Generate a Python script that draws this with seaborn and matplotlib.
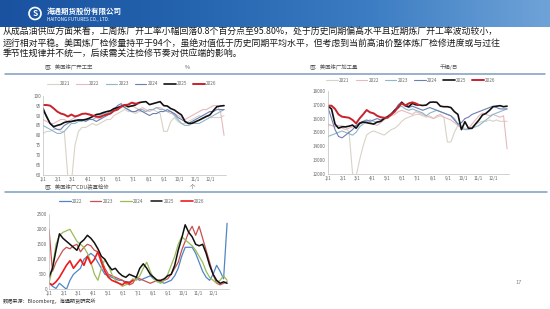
import numpy as np
import pandas as pd
import matplotlib
matplotlib.use('Agg')
import matplotlib.pyplot as plt
import seaborn as sns
from matplotlib.patches import Circle
from matplotlib.colors import LinearSegmentedColormap

sns.set_theme(style='white')
plt.rcParams['font.family'] = ['Noto Sans CJK SC', 'DejaVu Sans']

# ---------------- data ----------------
month_labels = ['1/1', '2/1', '3/1', '4/1', '5/1', '6/1', '7/1', '8/1', '9/1', '10/1', '11/1', '12/1']
month_start_days = [0, 31, 59, 90, 120, 151, 181, 212, 243, 273, 304, 334]

# US refinery utilization, %
util_2021 = [81, 82, 82, 83, 83, 82, 82, 59, 56, 75, 82, 84, 84, 85, 86, 85, 86, 87, 88, 88, 90, 91, 92, 93, 92, 92,
             91, 92, 92, 92, 93, 93, 92, 91, 82, 82, 87, 89, 87, 86, 86, 87, 88, 89, 90, 89, 90, 89, 89, 89, 89, 90]
util_2022 = [88, 87, 86, 86, 87, 88, 88, 87, 88, 89, 90, 91, 91, 91, 90, 89, 88, 90, 91, 92, 93, 93, 94, 95, 94, 95,
             94, 93, 94, 93, 92, 93, 94, 94, 93, 92, 91, 91, 90, 89, 88, 89, 90, 91, 92, 93, 93, 94, 95, 95, 92, 80]
util_2023 = [85, 84, 83, 82, 81, 81, 82, 84, 86, 86, 87, 87, 88, 88, 88, 89, 90, 91, 91, 92, 93, 94, 95, 94, 93, 92,
             92, 93, 93, 92, 93, 93, 94, 93, 93, 92, 92, 90, 88, 86, 85, 85, 86, 86, 86, 87, 88, 89, 90, 91, 92, 93]
util_2024 = [92, 90, 86, 84, 83, 83, 85, 86, 87, 87, 88, 88, 87, 88, 88, 87, 88, 89, 90, 91, 93, 95, 96, 94, 93, 92,
             92, 93, 92, 91, 90, 91, 91, 92, 92, 93, 92, 91, 89, 88, 87, 86, 87, 88, 89, 90, 91, 92, 92, 93, 93, 93]
util_2025 = [93.6, 89.4, 86.0, 84.4, 85.0, 85.5, 86.5, 86.9, 87.0, 87.5, 87.7, 87.7, 88.0, 88.6, 89.5, 90.5, 90.8,
             91.5, 92.0, 92.4, 93.5, 94.0, 94.5, 95.3, 94.5, 94.8, 95.3, 96.5, 96.8, 97.0, 95.5, 96.0, 96.5, 97.0,
             95.0, 94.8, 93.5, 92.8, 91.5, 90.3, 87.0, 86.0, 86.1, 86.9, 87.7, 88.6, 89.5, 90.3, 92.5, 94.5, 94.8, 95.0]
util_2026 = [95.3, 95.3, 95.0, 93.6, 92.0, 91.0, 90.5, 89.5, 90.5, 89.5, 90.0, 90.8, 91.0, 90.5, 90.0, 89.5, 89.2,
             90.0, 90.5, 91.0, 92.4, 93.0, 94.5, 95.3, 95.5, 96.5, 96.0, 96.2]

# US refinery crude runs, kb/d
runs_2021 = [15500, 15500, 15400, 15500, 15500, 15400, 15000, 12000, 11800, 13000, 14000, 14800, 15000, 15100, 15000,
             14900, 14800, 15000, 15200, 15300, 15500, 15800, 16000, 16100, 16200, 16300, 16300, 16200, 16100, 16200,
             16000, 16100, 16200, 16100, 14300, 14300, 15000, 15500, 15400, 15300, 15200, 15400, 15600, 15700, 15800,
             15800, 15900, 15800, 15900, 15800, 15800, 15800]
runs_2022 = [15600, 15500, 15400, 15500, 15300, 15200, 15300, 15400, 15500, 15600, 15700, 15800, 15700, 15600, 15500,
             15700, 15900, 16100, 16200, 16300, 16500, 16600, 16500, 16400, 16300, 16500, 16400, 16300, 16200, 16100,
             16000, 16200, 16300, 16100, 16000, 15900, 15700, 15500, 15300, 15200, 15300, 15600, 15900, 16200, 16400,
             16300, 16200, 16300, 16200, 16100, 16200, 13800]
runs_2023 = [14700, 14800, 14900, 15000, 15100, 15000, 14900, 14800, 15000, 15400, 15600, 15800, 15900, 15800, 15700,
             15800, 16000, 16200, 16400, 16600, 16800, 16900, 16700, 16600, 16700, 16600, 16500, 16400, 16200, 16400,
             16500, 16600, 16500, 16400, 16300, 16200, 16000, 15600, 15300, 15200, 15200, 15300, 15400, 15500, 15700,
             15900, 16100, 16300, 16400, 16500, 16600, 16700]
runs_2024 = [16800, 16000, 15200, 14700, 14600, 14800, 15000, 15200, 15500, 15700, 15800, 15900, 15800, 15900, 16000,
             15900, 16000, 16100, 16300, 16600, 17000, 17200, 16900, 16800, 16900, 16800, 16700, 16600, 16700, 16800,
             16700, 16600, 16500, 16400, 16300, 16200, 15900, 15600, 15700, 16000, 16100, 16300, 16400, 16500, 16600,
             16700, 16800, 16900, 16800, 16700, 16700, 16700]
runs_2025 = [16900, 16700, 15600, 15300, 15400, 15400, 15450, 15530, 15300, 15650, 15750, 15700, 15650, 15600, 15750,
             15800, 16000, 16130, 16300, 16600, 16800, 17180, 16950, 16860, 17100, 17000, 16980, 16950, 16980, 17180,
             17200, 17180, 16900, 16860, 16860, 16800, 16500, 16300, 15200, 15770, 15300, 15290, 15600, 15900, 16260,
             16380, 16600, 16860, 16900, 16935, 16860, 16900]
runs_2026 = [16935, 16935, 16700, 16300, 16135, 16100, 16060, 15900, 15650, 16015, 16300, 16620, 16450, 16380, 16200,
             16100, 16060, 16060, 16300, 16500, 16860, 17100, 16950, 17100, 17180, 17100, 16980]

# US refinery CDU outages
cdu_2022 = [200, 100, 30, 200, 100, 0, 300, 500, 600, 700, 1000, 1100, 1200, 1100, 900, 700, 500, 450, 400, 350, 300,
            300, 250, 250, 300, 350, 300, 350, 400, 450, 350, 300, 250, 200, 250, 300, 450, 700, 1100, 1400, 1400,
            1400, 1200, 900, 600, 400, 300, 500, 800, 600, 350, 2200]
cdu_2023 = [2000, 600, 900, 1100, 1300, 1400, 1350, 1450, 1500, 1250, 1400, 1500, 1450, 1300, 1250, 1000, 700, 500,
            450, 400, 350, 300, 200, 150, 200, 400, 350, 300, 250, 200, 250, 300, 250, 300, 350, 500, 700, 900, 1300,
            1600, 1900, 2100, 1800, 2100, 1700, 1300, 900, 500, 200, 150, 200, 250]
cdu_2024 = [200, 700, 1500, 1800, 1900, 1950, 2000, 1800, 1600, 1500, 1400, 1200, 900, 500, 300, 700, 1000, 800, 500,
            300, 200, 100, 150, 200, 350, 300, 450, 700, 900, 600, 350, 250, 200, 300, 500, 800, 1100, 1500, 1750,
            1650, 1550, 1450, 1300, 1100, 900, 600, 400, 300, 200, 300, 450, 300]
cdu_2025 = [400, 700, 1300, 1850, 1700, 1600, 1500, 1400, 1300, 1550, 1650, 1800, 1700, 1550, 1350, 1100, 1000, 800,
            650, 700, 550, 450, 400, 500, 450, 400, 700, 850, 700, 500, 400, 300, 300, 350, 450, 500, 800, 1300, 1700,
            2150, 1900, 1750, 1500, 1450, 1500, 1200, 800, 500, 300, 200, 250, 200]
cdu_2026 = [200, 150, 250, 400, 600, 800, 950, 700, 850, 1000, 800, 1100, 850, 1000, 1250, 900, 600, 400, 300, 250,
            200, 150, 250, 200, 300]

body_lines = [
    "从成品油供应方面来看，上周炼厂开工率小幅回落0.8个百分点至95.80%，处于历史同期偏高水平且近期炼厂开工率波动较小，",
    "运行相对平稳。美国炼厂检修量持平于94个，虽绝对值低于历史同期平均水平，但考虑到当前高油价整体炼厂检修进度或与过往",
    "季节性规律并不统一，后续需关注检修节奏对供应端的影响。",
]

# ---------------- figure ----------------
W, H = 550, 309
fig = plt.figure(figsize=(W / 100, H / 100), dpi=100)
fig.patch.set_facecolor('white')

bg = fig.add_axes([0, 0, 1, 1])
bg.set_xlim(0, W)
bg.set_ylim(H, 0)
bg.axis('off')

# header banner
grad = np.linspace(0, 1, 256)[None, :]
cmap = LinearSegmentedColormap.from_list('hdr', ['#1a52a0', '#2463ae', '#3b7cc2', '#6fa3d8'])
bg.imshow(grad, extent=[0, W, 27, 0], aspect='auto', cmap=cmap, zorder=0)
bg.add_patch(Circle((35, 13.5), 6, fill=False, ec='white', lw=1.2, zorder=2))
bg.text(35, 13.5, 'S', color='white', fontsize=6, ha='center', va='center', fontweight='bold', zorder=3)
bg.text(47, 11, '海通期货股份有限公司', color='white', fontsize=5.4, fontweight='bold', va='center', ha='left')
bg.text(47, 19, 'HAITONG FUTURES CO., LTD.', color='white', fontsize=3.3, va='center', ha='left')

for i, line in enumerate(body_lines):
    bg.text(3, 32.5 + i * 10.8, line, fontsize=6.4, color='#1a1a1a', va='center', ha='left')

# chart titles and rules
title_c = '#555555'
bg.text(45, 67.5, '图：美国炼厂开工率', fontsize=3.9, color=title_c, va='center')
bg.text(185, 67.5, '%', fontsize=3.9, color=title_c, va='center')
bg.text(310, 67.5, '图：美国炼厂加工量', fontsize=3.9, color=title_c, va='center')
bg.text(440, 67.5, '千桶/日', fontsize=3.9, color=title_c, va='center')
bg.plot([5, 545], [73.5, 73.5], color='#7f9cc0', lw=1.1)
bg.text(45, 187.5, '图：美国炼厂CDU装置检修', fontsize=3.9, color=title_c, va='center')
bg.text(190, 187.5, '个', fontsize=3.9, color=title_c, va='center')
bg.plot([5, 547], [191.5, 191.5], color='#7f9cc0', lw=1.1)
bg.text(3, 301, '数据来源：Bloomberg，海通期货研究所', fontsize=3.7, color='#333333', va='center')
bg.text(515, 283, '17', fontsize=4.2, color='#888888', va='center')

TICK_FS = 3.3
tick_c = '#666666'


def px_axes(left, right, top, bottom):
    return fig.add_axes([left / W, 1 - bottom / H, (right - left) / W, (bottom - top) / H])


def style_axes(ax, yticks, ylim):
    ax.set_xlim(0, 366)
    ax.set_ylim(*ylim)
    ax.set_xticks(month_start_days)
    ax.set_xticklabels(month_labels)
    ax.set_yticks(yticks)
    ax.tick_params(axis='both', labelsize=TICK_FS, colors=tick_c, length=0, pad=1.5)
    for s in ['top', 'right']:
        ax.spines[s].set_visible(False)
    for s in ['left', 'bottom']:
        ax.spines[s].set_color('#bfbfbf')
        ax.spines[s].set_linewidth(0.5)
    ax.set_xlabel('')
    ax.set_ylabel('')
    ax.set_facecolor('none')


def draw(ax, series, colors, widths):
    for name, vals in series.items():
        df = pd.DataFrame({'day': np.arange(len(vals)) * 7.1, 'v': vals})
        sns.lineplot(data=df, x='day', y='v', ax=ax, color=colors[name], lw=widths[name], label=name)


# ---- chart 1: utilization
ax1 = px_axes(43, 226, 95.7, 175)
s1 = {'2021': util_2021, '2022': util_2022, '2023': util_2023, '2024': util_2024, '2025': util_2025,
      '2026': util_2026}
c1 = {'2021': '#d8d3c6', '2022': '#e8b8be', '2023': '#8fb6c9', '2024': '#6d7fb2', '2025': '#111111',
      '2026': '#c8232c'}
w1 = {'2021': 0.8, '2022': 0.8, '2023': 0.8, '2024': 0.8, '2025': 1.2, '2026': 1.4}
draw(ax1, s1, c1, w1)
style_axes(ax1, range(60, 101, 5), (60, 100))
ax1.legend(loc='center', bbox_to_anchor=(0.486, 1.148), ncol=6, frameon=False, fontsize=TICK_FS,
           handlelength=2.5, handletextpad=0.3, columnspacing=1.3, labelcolor=tick_c)

# ---- chart 2: runs
ax2 = px_axes(328, 509, 91, 173.7)
s2 = {'2021': runs_2021, '2022': runs_2022, '2023': runs_2023, '2024': runs_2024, '2025': runs_2025,
      '2026': runs_2026}
draw(ax2, s2, c1, w1)
style_axes(ax2, range(12000, 18001, 1000), (12000, 18000))
ax2.legend(loc='center', bbox_to_anchor=(0.459, 1.133), ncol=6, frameon=False, fontsize=TICK_FS,
           handlelength=2.5, handletextpad=0.3, columnspacing=1.3, labelcolor=tick_c)

# ---- chart 3: CDU outages
ax3 = px_axes(49, 229, 214.3, 289.3)
s3 = {'2022': cdu_2022, '2023': cdu_2023, '2024': cdu_2024, '2025': cdu_2025, '2026': cdu_2026}
c3 = {'2022': '#4f86c6', '2023': '#c9504c', '2024': '#9bbb59', '2025': '#111111', '2026': '#ee1c1c'}
w3 = {'2022': 0.9, '2023': 0.9, '2024': 0.9, '2025': 1.1, '2026': 1.2}
draw(ax3, s3, c3, w3)
style_axes(ax3, range(0, 2501, 500), (0, 2500))
ax3.legend(loc='center', bbox_to_anchor=(0.461, 1.177), ncol=5, frameon=False, fontsize=TICK_FS,
           handlelength=2.5, handletextpad=0.3, columnspacing=1.6, labelcolor=tick_c)

fig.savefig('out.png', dpi=100)
